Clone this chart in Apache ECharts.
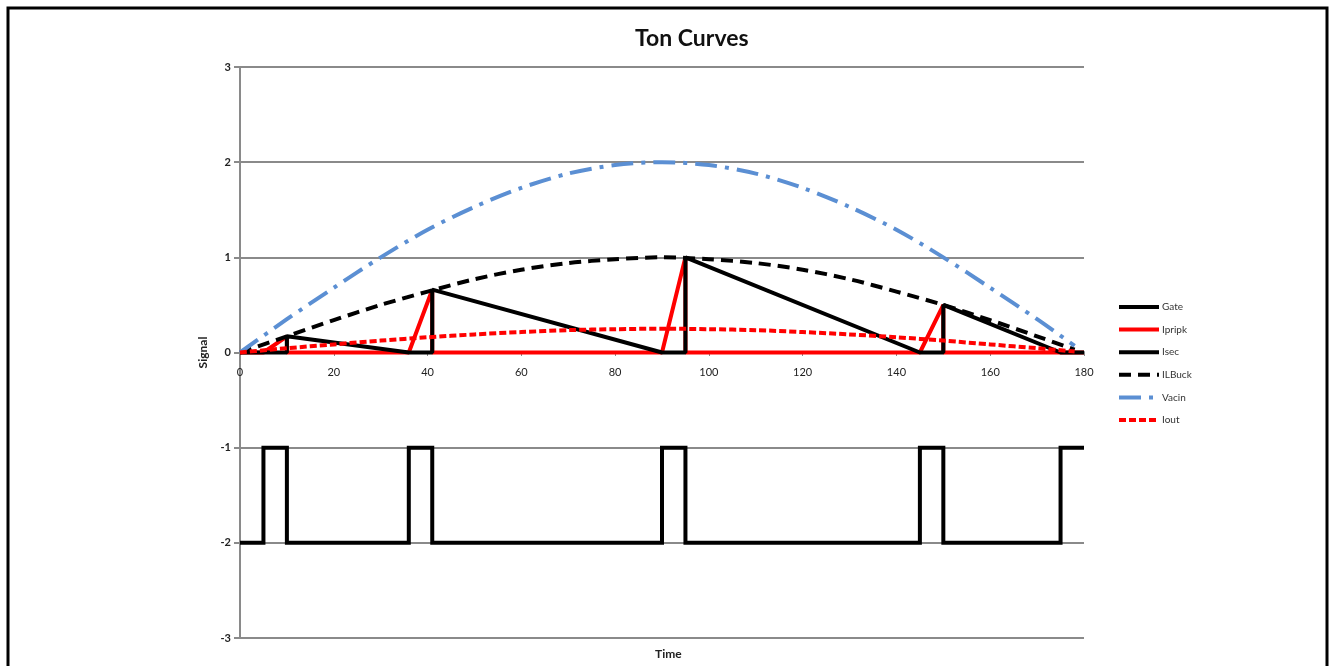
<!DOCTYPE html>
<html>
<head>
<meta charset="utf-8">
<script src="https://cdn.jsdelivr.net/npm/echarts@6/dist/echarts.min.js"></script>
<style>
html,body{margin:0;padding:0;background:#fff;}
#chart{width:1332px;height:666px;}
</style>
</head>
<body>
<div id="chart"></div>
<script>
// ---- data ----
var xTicks = [0, 20, 40, 60, 80, 100, 120, 140, 160, 180];
var yTicks = [-3, -2, -1, 0, 1, 2, 3];

var gateX = [0, 5, 5, 10, 10, 36, 36, 41, 41, 90, 90, 95, 95, 145, 145, 150, 150, 175, 175, 180];
var gateY = [-2, -2, -1, -1, -2, -2, -1, -1, -2, -2, -1, -1, -2, -2, -1, -1, -2, -2, -1, -1];

var ipripkX = [0, 5, 10, 10, 36, 41, 41, 90, 95, 95, 145, 150, 150, 175, 180];
var ipripkY = [0, 0, 0.17, 0, 0, 0.66, 0, 0, 1.0, 0, 0, 0.5, 0, 0, 0];

var isecX = [0, 10, 10, 36, 41, 41, 90, 95, 95, 145, 150, 150, 175, 180];
var isecY = [0, 0, 0.17, 0, 0, 0.66, 0, 0, 1.0, 0, 0, 0.5, 0, 0];

var curveX = [0, 10, 20, 30, 40, 50, 60, 70, 80, 90, 100, 110, 120, 130, 140, 150, 160, 170, 178];
var ilbuckY = [0, 0.17, 0.34, 0.5, 0.64, 0.77, 0.87, 0.94, 0.98, 1.0, 0.98, 0.94, 0.87, 0.77, 0.64, 0.5, 0.34, 0.17, 0.03];
var vacinY = [0, 0.35, 0.68, 1.0, 1.29, 1.53, 1.73, 1.88, 1.97, 2.0, 1.97, 1.88, 1.73, 1.53, 1.29, 1.0, 0.68, 0.35, 0.07];
var ioutY = [0, 0.045, 0.085, 0.125, 0.16, 0.19, 0.215, 0.235, 0.245, 0.25, 0.245, 0.235, 0.215, 0.19, 0.16, 0.125, 0.085, 0.045, 0.01];

var seriesNames = ['Gate', 'Ipripk', 'Isec', 'ILBuck', 'Vacin', 'Iout'];

function zip(xs, ys) {
  var out = [];
  for (var i = 0; i < xs.length; i++) out.push([xs[i], ys[i]]);
  return out;
}

var FONT = 'Lato, "Open Sans", sans-serif';
var chart = echarts.init(document.getElementById('chart'));

function lineSeries(name, data, color, type, smooth, join) {
  return {
    name: name,
    type: 'line',
    data: data,
    symbol: 'none',
    smooth: smooth ? 0.3 : false,
    animation: false,
    lineStyle: { color: color, width: 4, type: type, cap: 'butt', join: join || 'miter' },
    itemStyle: { color: color }
  };
}

chart.setOption({
  backgroundColor: '#fff',
  animation: false,
  title: [
    { text: 'Ton Curves', left: 630, top: 22,
      textStyle: { fontFamily: FONT, fontSize: 23, fontWeight: 'bold', color: '#111' } },
    { text: 'Time', left: 650, top: 643,
      textStyle: { fontFamily: FONT, fontSize: 12, fontWeight: 'bold', color: '#222' } }
  ],
  graphic: [
    { type: 'rect', shape: { x: 8, y: 8, width: 1319, height: 670 },
      style: { fill: 'none', stroke: '#000', lineWidth: 3 }, silent: true }
  ],
  grid: { left: 240, right: 248, top: 67, bottom: 28, containLabel: false },
  legend: {
    orient: 'vertical',
    left: 1117,
    top: 302,
    padding: 0,
    itemWidth: 40,
    itemHeight: 10,
    itemGap: 12.6,
    data: seriesNames,
    itemStyle: { opacity: 0 },
    lineStyle: { width: 4 },
    textStyle: { fontFamily: FONT, fontSize: 10, color: '#333', padding: [0, 0, 0, -2] }
  },
  xAxis: {
    type: 'value',
    min: 0, max: 180, interval: 20,
    offset: -286,
    axisLine: { onZero: false, lineStyle: { color: '#8a8a8a', width: 2 } },
    axisTick: { show: true, length: 4, inside: false, lineStyle: { color: '#8a8a8a' } },
    axisLabel: { margin: 15, fontFamily: FONT, fontSize: 11, color: '#222',
      customValues: xTicks },
    splitLine: { show: false }
  },
  yAxis: {
    type: 'value',
    min: -3, max: 3, interval: 1,
    name: 'Signal',
    nameLocation: 'middle',
    nameRotate: 90,
    nameGap: 29,
    nameTextStyle: { fontFamily: FONT, fontSize: 12, fontWeight: 'bold', color: '#222' },
    axisLine: { show: true, onZero: false, lineStyle: { color: '#8a8a8a', width: 2 } },
    axisTick: { show: true, length: 6, lineStyle: { color: '#8a8a8a', width: 2 } },
    axisLabel: { margin: 9, fontFamily: FONT, fontSize: 11, fontWeight: 'bold', color: '#222' },
    splitLine: { show: true, lineStyle: { color: '#8a8a8a', width: 2 } }
  },
  series: [
    lineSeries('Gate', zip(gateX, gateY), '#000000', 'solid', false, 'miter'),
    lineSeries('Ipripk', zip(ipripkX, ipripkY), '#ff0000', 'solid', false, 'bevel'),
    lineSeries('Isec', zip(isecX, isecY), '#000000', 'solid', false, 'bevel'),
    lineSeries('ILBuck', zip(curveX, ilbuckY), '#000000', [12, 7], true, 'round'),
    lineSeries('Vacin', zip(curveX, vacinY), '#5b8fd3', [22, 8, 4, 8], true, 'round'),
    lineSeries('Iout', zip(curveX, ioutY), '#ff0000', [7, 3], true, 'round')
  ]
});
</script>
</body>
</html>
